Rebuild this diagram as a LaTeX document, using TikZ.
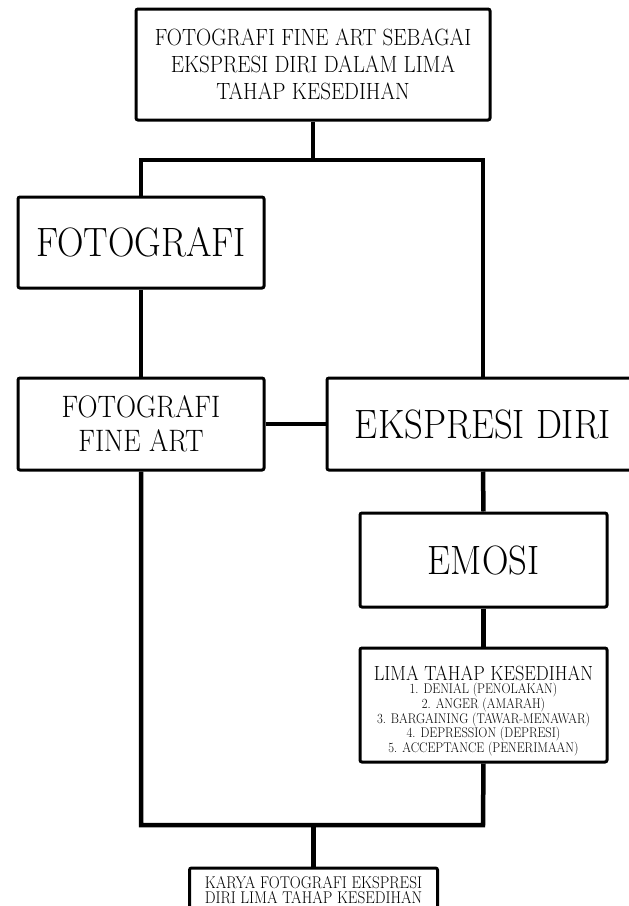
\documentclass[tikz,border=0pt]{standalone}
\usepackage{fontspec}
\newfontfamily\capsfont{lmroman17-regular}[Extension=.otf,FakeStretch=0.895]
\tikzset{
  kotak/.style={draw,line width=3pt,rounded corners=2pt,inner sep=0pt,align=center,fill=white},
  garis/.style={line width=4.5pt},
}
\begin{document}
\begin{tikzpicture}[x=1pt,y=-1pt]
\useasboundingbox (0,0) rectangle (629,906);
\clip (0,0) rectangle (629,906);
% kotak
\node[kotak,minimum width=354pt,minimum height=111pt,font=\capsfont\fontsize{23.5}{27}\selectfont] (judul) at (313,64.5) {FOTOGRAFI FINE ART SEBAGAI\\EKSPRESI DIRI DALAM LIMA\\TAHAP KESEDIHAN};
\node[kotak,minimum width=246pt,minimum height=91pt,font=\capsfont\fontsize{41}{41}\selectfont] (fot) at (141,242.5) {FOTOGRAFI};
\node[kotak,minimum width=246pt,minimum height=92pt,font=\capsfont\fontsize{31}{34}\selectfont] (ffa) at (141,424) {FOTOGRAFI\\FINE ART};
\node[kotak,minimum width=312pt,minimum height=92pt,font=\capsfont\fontsize{41}{41}\selectfont] (ed) at (483,424) {EKSPRESI DIRI};
\node[kotak,minimum width=247pt,minimum height=94pt,font=\capsfont\fontsize{41}{41}\selectfont] (emo) at (483.5,560) {EMOSI};
\node[kotak,minimum width=247pt,minimum height=114pt,font=\capsfont\fontsize{14}{14.7}\selectfont] (lima) at (483.5,705) {{\fontsize{20.5}{20}\selectfont\rule{0pt}{26pt}LIMA TAHAP KESEDIHAN}\\[-1pt]1. DENIAL (PENOLAKAN)\\2. ANGER (AMARAH)\\3. BARGAINING (TAWAR-MENAWAR)\\4. DEPRESSION (DEPRESI)\\5. ACCEPTANCE (PENERIMAAN)};
\node[kotak,minimum width=248pt,minimum height=42pt,font=\capsfont\fontsize{17}{15.5}\selectfont] (karya) at (313.5,889) {\rule{0pt}{14pt}KARYA FOTOGRAFI EKSPRESI\\DIRI LIMA TAHAP KESEDIHAN};
% garis
\coordinate (kiriatas) at (141,160);
\coordinate (kananatas) at (483,160);
\coordinate (kiribawah) at (141,825);
\coordinate (kananbawah) at (483,825);
\draw[garis] (judul.south) -- (judul.south |- kiriatas);
\draw[garis] (fot.north) -- (kiriatas) -- (kananatas) -- (ed.north);
\draw[garis] (fot.south) -- (ffa.north);
\draw[garis] (ffa.east) -- (ed.west);
\draw[garis] (ed.south) -- (emo.north);
\draw[garis] (emo.south) -- (lima.north);
\draw[garis] (ffa.south) -- (kiribawah) -- (kananbawah) -- (lima.south);
\draw[garis] (karya.north |- kiribawah) -- (karya.north);
\end{tikzpicture}
\end{document}
